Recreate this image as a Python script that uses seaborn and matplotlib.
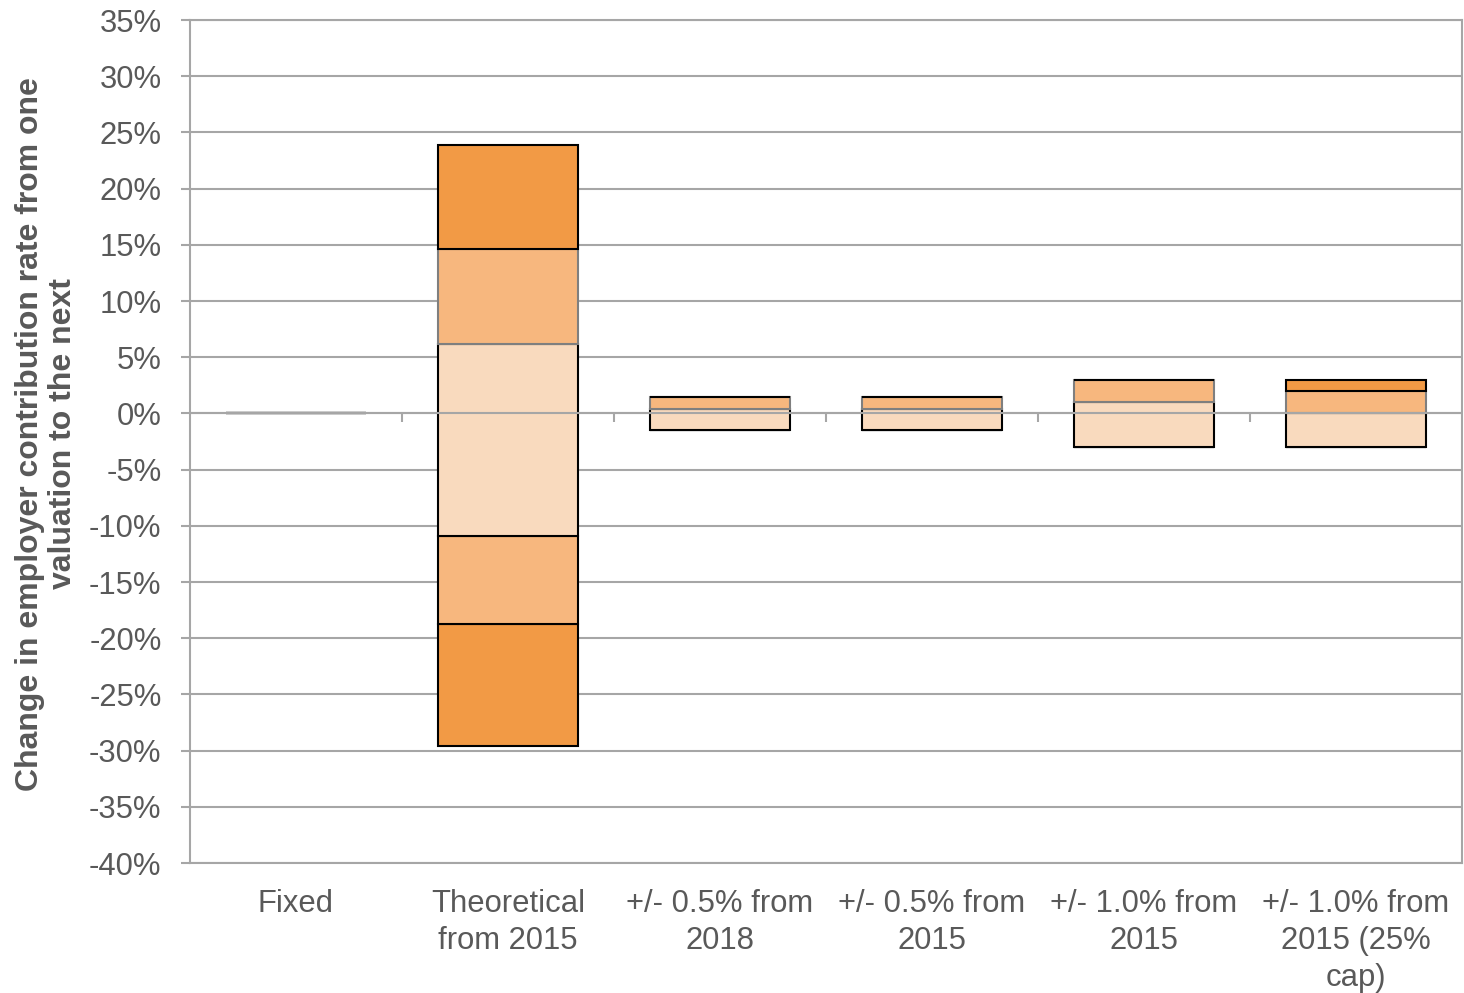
import matplotlib
matplotlib.use("Agg")
import matplotlib.pyplot as plt
import seaborn as sns
import pandas as pd
import numpy as np

# Scenario labels
categories = [
    "Fixed",
    "Theoretical\nfrom 2015",
    "+/- 0.5% from\n2018",
    "+/- 0.5% from\n2015",
    "+/- 1.0% from\n2015",
    "+/- 1.0% from\n2015 (25%\ncap)",
]

# Band boundaries (% change in employer contribution rate), low to high
edge_1 = [0.0, -29.6, -1.5, -1.5, -3.0, -3.0]
edge_2 = [0.0, -18.7, -1.5, -1.5, -3.0, -3.0]
edge_3 = [0.0, -10.9, -1.5, -1.5, -3.0, -3.0]
edge_4 = [0.0, 6.2, 0.4, 0.4, 1.0, 0.0]
edge_5 = [0.0, 14.6, 1.5, 1.5, 3.0, 2.0]
edge_6 = [0.0, 23.9, 1.5, 1.5, 3.0, 3.0]

yticks = list(range(-40, 40, 5))

DARK = "#F29A45"
LIGHT = "#F7B77E"
LIGHTEST = "#F9DABE"
GRID = "#A6A6A6"
TEXT = "#595959"

sns.set_theme(style="white")
plt.rcParams["font.family"] = ["Liberation Sans", "DejaVu Sans"]

fig = plt.figure(figsize=(14.64, 9.93), dpi=100)
ax = fig.add_axes([190 / 1464, 1 - 863 / 993, 1272 / 1464, 843 / 993])

bands = [
    (edge_1, edge_2, DARK, "black"),
    (edge_2, edge_3, LIGHT, "black"),
    (edge_3, edge_4, LIGHTEST, "black"),
    (edge_4, edge_5, LIGHT, "#7F7F7F"),
    (edge_5, edge_6, DARK, "black"),
]

for lo, hi, face, edge in bands:
    df = pd.DataFrame({
        "scenario": categories,
        "size": np.array(hi) - np.array(lo),
    })
    sns.barplot(
        data=df, x="scenario", y="size", order=categories,
        bottom=np.array(lo), width=0.665, color=face,
        edgecolor=edge, linewidth=1.5, errorbar=None,
        saturation=1, ax=ax, zorder=3,
    )

# Zero axis line with tick marks between scenarios
ax.axhline(0, color=GRID, linewidth=1.5, zorder=4)
for i in range(len(categories) - 1):
    ax.plot([i + 0.5, i + 0.5], [0, -0.8], color=GRID, linewidth=1.5,
            zorder=4, solid_capstyle="butt")

ax.set_xlim(-0.5, len(categories) - 0.5)
ax.set_ylim(-40, 35)
ax.set_yticks(yticks)
ax.set_yticklabels([f"{t}%" for t in yticks])
ax.yaxis.grid(True, color=GRID, linewidth=1.5, zorder=0)
ax.set_axisbelow(True)

for side in ["left", "right", "top", "bottom"]:
    ax.spines[side].set_visible(True)
    ax.spines[side].set_color(GRID)
    ax.spines[side].set_linewidth(1.5)

ax.tick_params(axis="y", which="major", length=6.5, width=1.5, color=GRID,
               pad=14, labelsize=22.3, labelcolor=TEXT, left=True)
ax.tick_params(axis="x", which="major", length=0, pad=19, labelsize=22.3,
               labelcolor=TEXT)
for lab in ax.get_xticklabels():
    lab.set_linespacing(1.3)

ax.set_xlabel("")
ax.set_ylabel("Change in employer contribution rate from one\nvaluation to the next",
              fontsize=23, fontweight="bold", color=TEXT, linespacing=1.12)
ax.yaxis.set_label_coords(-0.088, 0.509)

fig.savefig("out.png", dpi=100)
